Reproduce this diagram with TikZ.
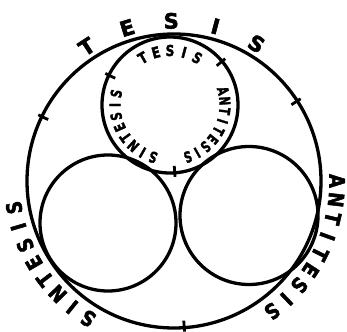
\documentclass[tikz,border=0pt]{standalone}
\usepackage{fontspec}
\usepackage{graphicx}
\newfontfamily\heavyfont[FakeBold=2.5]{DejaVu Sans Bold}
\usetikzlibrary{calc}
\begin{document}
\begin{tikzpicture}[x=1pt,y=1pt,
  ring/.style={line width=3.3pt},
  tickmark/.style={line width=2.8pt},
  bigletter/.style={font=\heavyfont\fontsize{21}{21}\selectfont, inner sep=0pt, text height=15pt, text depth=0pt, anchor=center},
  smallletter/.style={font=\heavyfont\fontsize{15}{15}\selectfont, inner sep=0pt, text height=11pt, text depth=0pt, anchor=center}]
\useasboundingbox (0,0) rectangle (347,331);
\coordinate (O) at (174,150);
\coordinate (T) at (170,226);
\coordinate (L) at (108,108);
\coordinate (R) at (249,115.5);
\draw[ring] (O) circle[radius=147];
\draw[ring] (T) circle[radius=68];
\draw[ring] (L) circle[radius=68];
\draw[ring] (R) circle[radius=69];
% ticks
\foreach \a in {154,33,-86} \draw[tickmark, shift={(O)}] (\a:140) -- (\a:151);
\foreach \a in {154,40,-86} \draw[tickmark, shift={(T)}] (\a:61) -- (\a:72);
% outer words
\foreach \ch [count=\i from 0] in {T,E,S,I,S} {
  \pgfmathsetmacro\ang{123-16*\i}\pgfmathsetmacro\rot{\ang-90}
  \node[bigletter, rotate=\rot] (oa\i) at ($(O)+(\ang:160)$) {\ch};
}
\foreach \ch [count=\i from 0] in {A,N,T,I,T,E,S,I,S} {
  \pgfmathsetmacro\ang{0-6.625*\i}\pgfmathsetmacro\rot{\ang-90}
  \node[bigletter, rotate=\rot] (ob\i) at ($(O)+(\ang:163)$) {\scalebox{0.85}[1]{\ch}};
}
\foreach \ch [count=\i from 0] in {S,I,N,T,E,S,I,S} {
  \pgfmathsetmacro\ang{-122-6.93*\i}\pgfmathsetmacro\rot{\ang-90}
  \node[bigletter, rotate=\rot] (oc\i) at ($(O)+(\ang:162)$) {\scalebox{0.85}[1]{\ch}};
}
% inner words
\foreach \ch [count=\i from 0] in {T,E,S,I,S} {
  \pgfmathsetmacro\ang{120-15*\i}\pgfmathsetmacro\rot{\ang-90}
  \node[smallletter, rotate=\rot] (ia\i) at ($(T)+(\ang:54.5)$) {\scalebox{0.8}[1]{\ch}};
}
\foreach \ch [count=\i from 0] in {A,N,T,I,T,E,S,I,S} {
  \pgfmathsetmacro\ang{15-10.75*\i}\pgfmathsetmacro\rot{\ang-90}
  \node[smallletter, rotate=\rot] (ib\i) at ($(T)+(\ang:55)$) {\scalebox{0.7}[1]{\ch}};
}
\foreach \ch [count=\i from 0] in {S,I,N,T,E,S,I,S} {
  \pgfmathsetmacro\ang{-108-12*\i}\pgfmathsetmacro\rot{\ang-90}
  \node[smallletter, rotate=\rot] (ic\i) at ($(T)+(\ang:55)$) {\scalebox{0.74}[1]{\ch}};
}
\end{tikzpicture}
\end{document}
